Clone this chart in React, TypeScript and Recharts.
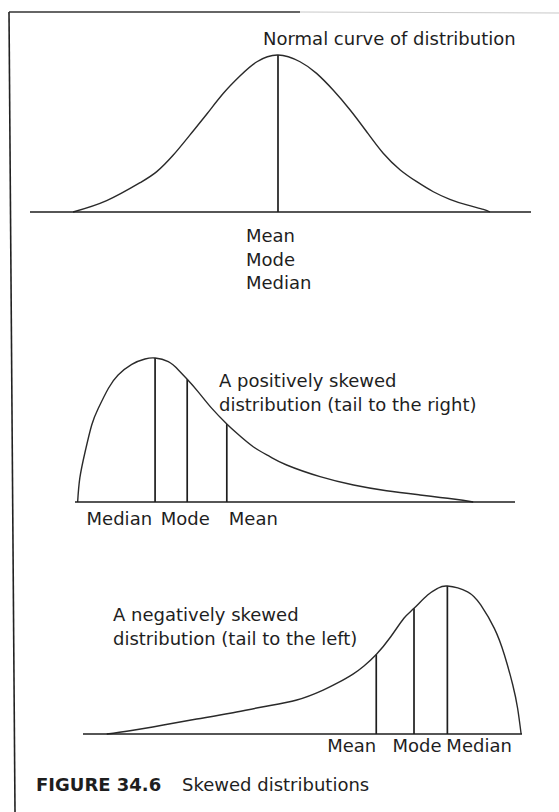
import React from 'react';
import { LineChart, Line, XAxis, YAxis, ReferenceLine } from 'recharts';

const FONT = '"DejaVu Sans", sans-serif';
const INK = '#1e1e1e';
const PAGE_W = 559;
const PAGE_H = 812;

// normal curve (x: position along the baseline, y: relative height, peak = 100)
const normalX = [8.6, 15.3, 22, 25.3, 28.6, 31.9, 35.3, 38.6, 41.9, 45.3, 49.5, 53.9, 57.2, 60.5, 63.9, 67.2, 70.5, 73.9, 77.2, 80.5, 83.8, 87.2, 90.5, 91.8];
const normalY = [0, 7.2, 18.7, 25.7, 36.3, 49, 62.4, 75.6, 86.6, 95.7, 100, 95.7, 88.3, 77.7, 65, 51.1, 37.4, 26.8, 19.3, 12.9, 8.1, 4.5, 1.7, 0];
const normalMarkerX = [49.5];
const normalMarkerTop = [100];
const normalLabels = ['Mean', 'Mode', 'Median'];

// positively skewed
const posSkewX = [0.6, 1.1, 2.3, 3.8, 5.3, 7.6, 9.8, 12.9, 15.9, 18.2, 21.2, 23.5, 25.5, 28, 31.1, 34.5, 36.8, 40.5, 44.3, 48.1, 55.7, 63.3, 70.8, 78.4, 86, 90.5];
const posSkewY = [0, 16.7, 34.9, 53.5, 65.1, 79, 88.2, 95.6, 99.3, 100, 97.4, 91.7, 85.2, 76.5, 65, 54.2, 47.7, 38.4, 31.5, 25.7, 17.6, 11.8, 7.8, 4.9, 2.1, 0];
const posMarkerX = [18.2, 25.5, 34.5];
const posMarkerTop = [100, 85.2, 54.2];
const posLabels = ['Median', 'Mode', 'Mean'];

// negatively skewed
const negSkewX = [5.4, 10.7, 18.3, 25.9, 33.5, 41.1, 48.7, 54.7, 58, 61.5, 64, 66.8, 70.1, 73.1, 75.4, 78.5, 80.8, 83, 87.6, 90.6, 93.7, 96, 97.9, 99, 99.8];
const negSkewY = [0, 2.2, 6.1, 10.1, 14, 18.4, 23, 29.7, 34.5, 40.5, 46, 53.7, 65.7, 78.2, 84.9, 93.9, 98.4, 100, 96.1, 87.2, 71.4, 53.4, 33.1, 17.4, 0];
const negMarkerX = [66.8, 75.4, 83];
const negMarkerTop = [53.7, 84.9, 100];
const negLabels = ['Mean', 'Mode', 'Median'];

const toRows = (xs: number[], ys: number[]) => xs.map((x, i) => ({ x, y: ys[i] }));

interface PanelProps {
  top: number;
  height: number;
  plot: { top: number; bottom: number; left: number; right: number };
  axisHeight: number;
  xs: number[];
  ys: number[];
  markerX: number[];
  markerTop: number[];
  tick: (props: any) => React.ReactElement;
}

function Panel({ top, height, plot, axisHeight, xs, ys, markerX, markerTop, tick }: PanelProps) {
  const margin = {
    top: plot.top - top,
    left: plot.left,
    right: PAGE_W - plot.right,
    bottom: top + height - plot.bottom - axisHeight,
  };
  return (
    <div style={{ position: 'absolute', left: 0, top }}>
      <LineChart width={PAGE_W} height={height} data={toRows(xs, ys)} margin={margin}>
        <XAxis
          dataKey="x"
          type="number"
          domain={[0, 100]}
          ticks={markerX}
          interval={0}
          height={axisHeight}
          tickLine={false}
          tickSize={0}
          tickMargin={0}
          axisLine={{ stroke: INK, strokeWidth: 1.6 }}
          tick={tick}
        />
        <YAxis hide type="number" domain={[0, 100]} />
        {markerX.map((mx, i) => (
          <ReferenceLine
            key={mx}
            segment={[
              { x: mx, y: 0 },
              { x: mx, y: markerTop[i] },
            ]}
            stroke={INK}
            strokeWidth={1.7}
          />
        ))}
        <Line
          type="natural"
          dataKey="y"
          stroke="#2a2a2a"
          strokeWidth={1.4}
          dot={false}
          activeDot={false}
          isAnimationActive={false}
        />
      </LineChart>
    </div>
  );
}

const labelText = (key: string, x: number, y: number, anchor: string, t: string) => (
  <text key={key} x={x} y={y} textAnchor={anchor} fontSize={18} fontFamily={FONT} fill={INK}>
    {t}
  </text>
);

const NormalTick = (props: any) => {
  const { x, y } = props;
  return <g>{normalLabels.map((t, i) => labelText(t, x - 32, y + 30 + i * 23.5, 'start', t))}</g>;
};

const posAnchor = ['end', 'middle', 'start'];
const posDx = [-3, -2, 2];
const PosTick = (props: any) => {
  const { x, y, payload } = props;
  const i = posMarkerX.indexOf(payload.value);
  if (i < 0) return <g />;
  return labelText(posLabels[i], x + posDx[i], y + 23, posAnchor[i], posLabels[i]);
};

const negAnchor = ['end', 'middle', 'start'];
const negDx = [0, 3, -1];
const NegTick = (props: any) => {
  const { x, y, payload } = props;
  const i = negMarkerX.indexOf(payload.value);
  if (i < 0) return <g />;
  return labelText(negLabels[i], x + negDx[i], y + 18, negAnchor[i], negLabels[i]);
};

export default function App() {
  const textStyle = { fontSize: 18, fontFamily: FONT, fill: INK };
  return (
    <div
      style={{
        position: 'absolute',
        left: 0,
        top: 0,
        width: PAGE_W,
        height: PAGE_H,
        background: '#fff',
        overflow: 'hidden',
      }}
    >
      <Panel
        top={0}
        height={300}
        plot={{ top: 55, bottom: 212, left: 30, right: 531 }}
        axisHeight={80}
        xs={normalX}
        ys={normalY}
        markerX={normalMarkerX}
        markerTop={normalMarkerTop}
        tick={NormalTick}
      />
      <Panel
        top={330}
        height={210}
        plot={{ top: 358, bottom: 502, left: 75, right: 515 }}
        axisHeight={30}
        xs={posSkewX}
        ys={posSkewY}
        markerX={posMarkerX}
        markerTop={posMarkerTop}
        tick={PosTick}
      />
      <Panel
        top={560}
        height={210}
        plot={{ top: 586, bottom: 734, left: 83, right: 522 }}
        axisHeight={30}
        xs={negSkewX}
        ys={negSkewY}
        markerX={negMarkerX}
        markerTop={negMarkerTop}
        tick={NegTick}
      />
      <svg
        width={PAGE_W}
        height={PAGE_H}
        style={{ position: 'absolute', left: 0, top: 0, pointerEvents: 'none' }}
      >
        {/* frame of the scanned figure */}
        <line x1={9} y1={12} x2={15} y2={812} stroke="#222" strokeWidth={1.6} />
        <line x1={9} y1={12} x2={300} y2={12} stroke="#333" strokeWidth={1.3} />
        <line x1={300} y1={12} x2={559} y2={13} stroke="#c8c8c8" strokeWidth={1} />

        <text x={263} y={45} {...textStyle}>Normal curve of distribution</text>

        <text x={219} y={387} {...textStyle}>A positively skewed</text>
        <text x={219} y={411} {...textStyle}>distribution (tail to the right)</text>

        <text x={113} y={621} {...textStyle}>A negatively skewed</text>
        <text x={113} y={645} {...textStyle}>distribution (tail to the left)</text>

        <text x={36} y={791} {...textStyle} fontWeight="bold">FIGURE 34.6</text>
        <text x={182} y={791} {...textStyle}>Skewed distributions</text>
      </svg>
    </div>
  );
}
